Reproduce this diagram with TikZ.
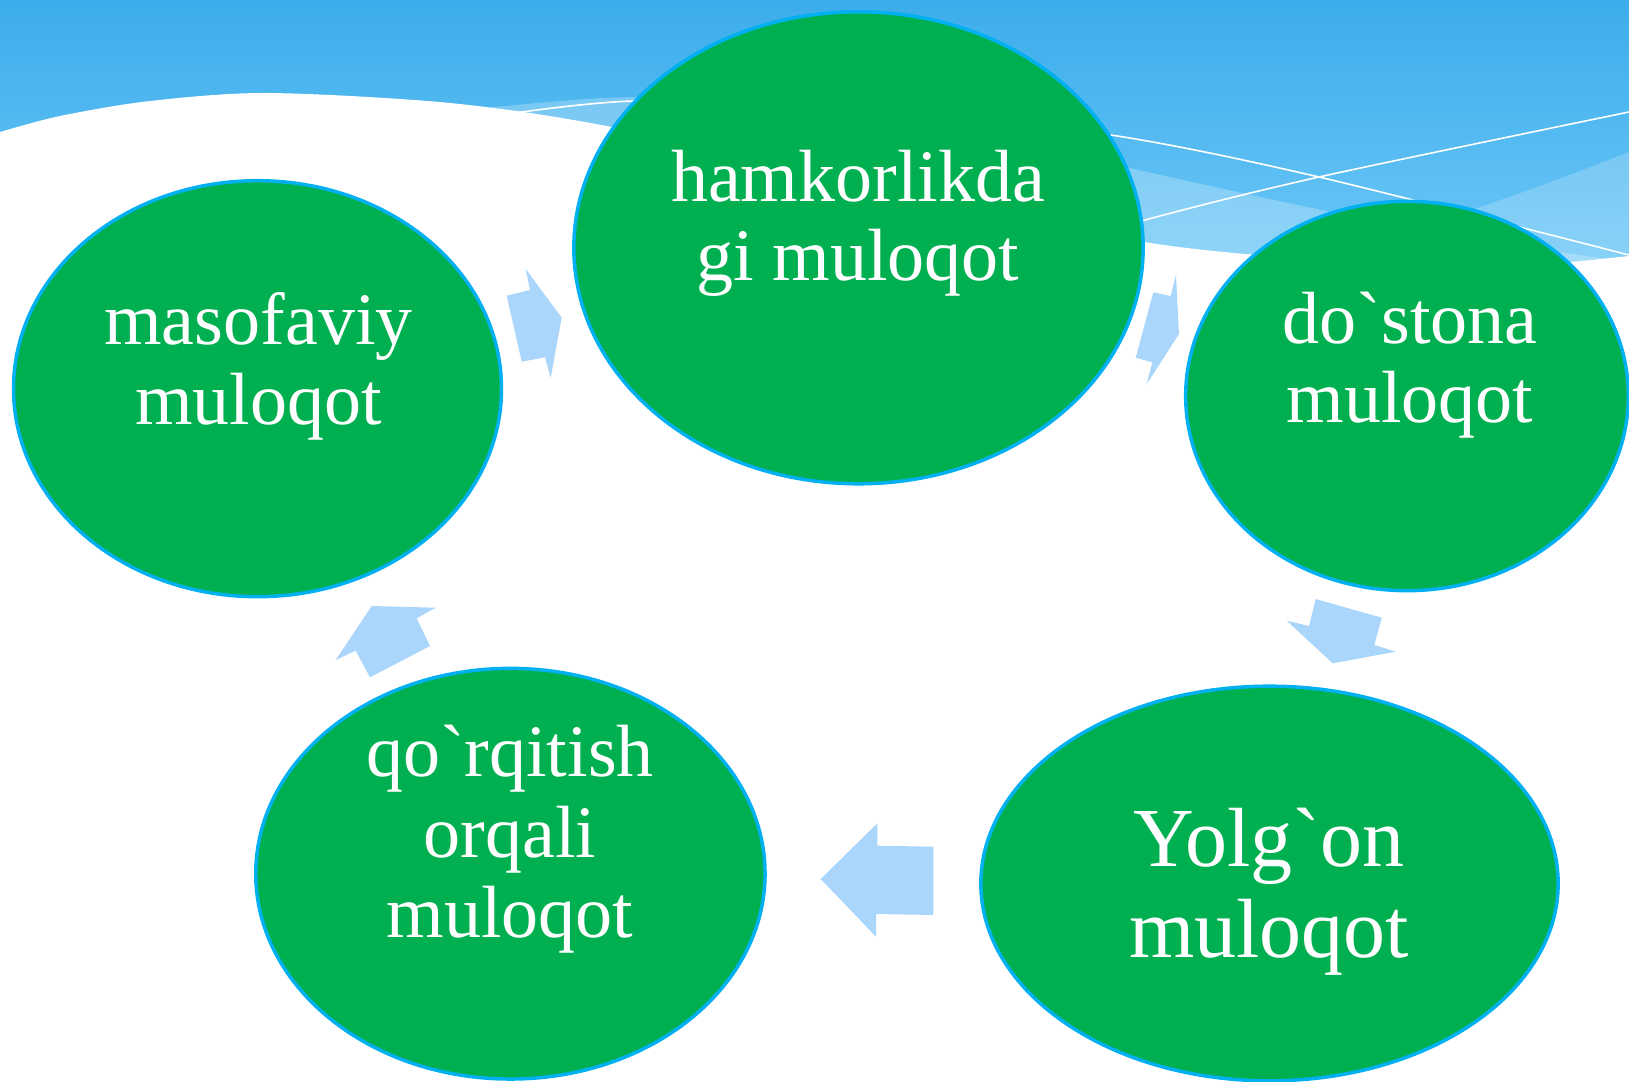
\documentclass[tikz,border=0pt]{standalone}
\usepackage{fontspec}
\setmainfont{Liberation Serif}[Ligatures=TeXOff]
\usetikzlibrary{shapes.geometric}
\definecolor{bubblegreen}{RGB}{0,176,80}
\definecolor{bubbleline}{RGB}{0,176,240}
\definecolor{arrowblue}{RGB}{171,214,251}
\definecolor{skytop}{RGB}{60,173,235}
\definecolor{skybot}{RGB}{112,201,248}
\tikzset{
  bubble/.style={ellipse, draw=bubbleline, line width=2.6pt, fill=bubblegreen, inner sep=0pt},
  bubbletext/.style={text=white, align=center, inner sep=0pt, anchor=base, font=\fontsize{55.5}{59.5}\selectfont},
  blockarrow/.style={fill=arrowblue},
  waveline/.style={draw=white, line width=1.2pt},
  waveband/.style={fill=white, fill opacity=0.25},
}
\begin{document}
\begin{tikzpicture}[x=0.75pt,y=-0.75pt]
\useasboundingbox (0,0) rectangle (1629,1082);
\clip (0,0) rectangle (1629,1082);
% sky banner
\shade[top color=skytop, bottom color=skybot] (0,0) rectangle (1629,290);
\fill[waveband] plot[smooth] coordinates {(420,115) (634,97) (880,112) (1129,168) (1336,213) (1500,243) (1629,262)} -- (1629,300) -- (420,300) -- cycle;
\fill[waveband, fill opacity=0.2] plot[smooth] coordinates {(1629,152) (1437,220) (1200,262)} -- (1629,300) -- cycle;
\draw[waveline] plot[smooth] coordinates {(480,118) (634,101) (870,108) (1111,135) (1319,177) (1629,255)};
\draw[waveline] plot[smooth] coordinates {(1050,250) (1145,220) (1319,177) (1629,112)};
\fill[white] plot[smooth] coordinates {(0,132) (60,116) (150,101) (268,93) (450,103) (612,127) (880,185) (1144,242) (1350,262) (1500,267) (1629,256)} -- (1629,1082) -- (0,1082) -- cycle;
% bubbles
\node[bubble, minimum width=366pt, minimum height=312pt] (masofaviy) at (257.5,388.7) {};
\node[bubble, minimum width=427pt, minimum height=354pt] (hamkorlik) at (858.5,247.8) {};
\node[bubble, minimum width=332pt, minimum height=292pt] (dostona) at (1407,396) {};
\node[bubble, minimum width=433pt, minimum height=296pt] (yolgon) at (1269.5,883.5) {};
\node[bubble, minimum width=382pt, minimum height=308pt] (qorqitish) at (510.4,873.7) {};
% texts (anchor base = baseline of the last line)
\node[bubbletext] (masofaviyText) at (258.5,424) {masofaviy\\muloqot};
\node[bubbletext] (hamkorlikText) at (858,280.5) {hamkorlikda\\gi muloqot};
\node[bubbletext] (dostonaText) at (1410,422.8) {do`stona\\muloqot};
\node[bubbletext, font=\fontsize{63}{68}\selectfont] (yolgonText) at (1269,957) {Yolg`on\\muloqot};
\node[bubbletext, font=\fontsize{55.5}{60.2}\selectfont] (qorqitishText) at (510,937.3) {qo`rqitish\\orqali\\muloqot};
% block arrows
\fill[blockarrow] (525.7,269) -- (530,290) -- (506.7,295.7) -- (521.7,361.7) -- (545,357.3) -- (550.7,377.7) -- (561.7,317.7) -- cycle;
\fill[blockarrow] (1176,275) -- (1170.7,296) -- (1153.3,292.3) -- (1135.7,357.7) -- (1152.3,362.3) -- (1146.7,384) -- (1179,334) -- cycle;
\fill[blockarrow] (1315.7,599) -- (1381.7,617.7) -- (1374.3,645) -- (1395.7,651.7) -- (1332.7,663.3) -- (1286.7,620.7) -- (1309,626) -- cycle;
\fill[blockarrow] (933.3,846.7) -- (877.3,845.7) -- (877.3,823.3) -- (820.7,879) -- (876,936.7) -- (876,914) -- (933.3,915) -- cycle;
\fill[blockarrow] (435.7,607.7) -- (416.7,618.3) -- (430,646) -- (370,677.3) -- (355.7,650.7) -- (335.7,660) -- (371.7,606) -- cycle;
\end{tikzpicture}
\end{document}
